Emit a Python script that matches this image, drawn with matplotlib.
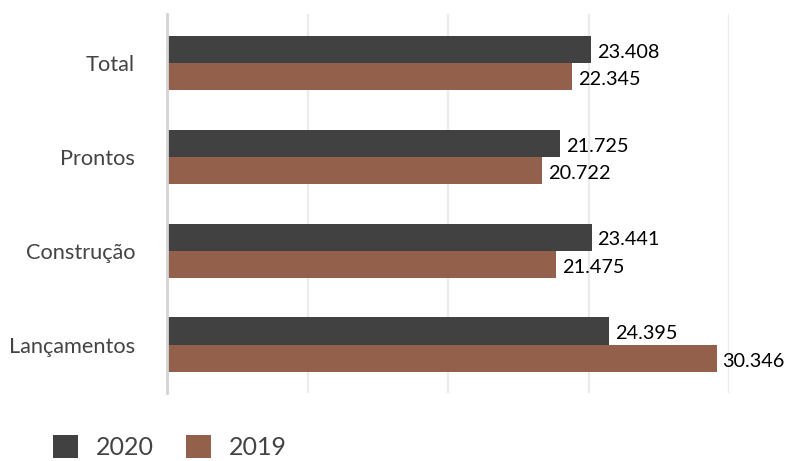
import matplotlib.pyplot as plt
import numpy as np
from matplotlib.patches import Patch

plt.rcParams['font.family'] = ['Lato', 'DejaVu Sans']

categories = ['Total', 'Prontos', 'Construção', 'Lançamentos']
values_2020 = [23408, 21725, 23441, 24395]
values_2019 = [22345, 20722, 21475, 30346]
series_labels = ['2020', '2019']

dark = '#414141'
brown = '#93614b'


def fmt(v):
    # thousands with a dot separator
    return f'{v:,}'.replace(',', '.')


fig = plt.figure(figsize=(7.89, 4.61), dpi=100)
ax = fig.add_axes([167 / 789, 1 - 393 / 461, (729 - 167) / 789, (393 - 14) / 461])

y = np.arange(len(categories))
h = 0.289
ax.barh(y - h / 2, values_2020, height=h, color=dark, zorder=3)
ax.barh(y + h / 2, values_2019, height=h, color=brown, zorder=3)

for yi, v in zip(y - h / 2, values_2020):
    ax.text(v + 330, yi + 0.03, fmt(v), va='center', ha='left', fontsize=14.3, color='black')
for yi, v in zip(y + h / 2, values_2019):
    ax.text(v + 330, yi + 0.03, fmt(v), va='center', ha='left', fontsize=14.3, color='black')

xmax = 31030
ax.set_xlim(0, xmax)
ax.set_ylim(3.515, -0.52)
ax.set_xticks(np.linspace(0, xmax, 5))
ax.set_xticklabels([])
ax.set_yticks(y)
ax.set_yticklabels(categories, fontsize=15.7, color='#444444')
ax.tick_params(axis='both', length=0)
ax.tick_params(axis='y', pad=23)
ax.grid(axis='x', color='#ebebeb', linewidth=1.6, zorder=0)

for s in ['top', 'right', 'bottom']:
    ax.spines[s].set_visible(False)
ax.spines['left'].set_color('#d4d4d4')
ax.spines['left'].set_linewidth(2)
ax.spines['left'].set_zorder(4)

handles = [Patch(facecolor=dark), Patch(facecolor=brown)]
fig.legend(handles, series_labels, loc='lower left', bbox_to_anchor=(53 / 789, 0.004),
           ncol=2, frameon=False, fontsize=18, handlelength=1.0, handleheight=1.0,
           handletextpad=0.7, columnspacing=1.3, borderpad=0, borderaxespad=0,
           labelcolor='#444444')

fig.savefig('out.png', dpi=100)
